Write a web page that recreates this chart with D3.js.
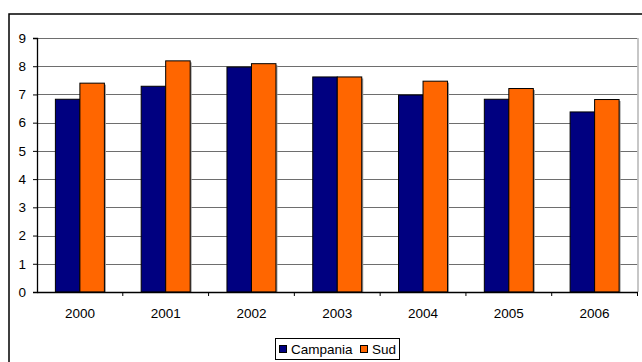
<!DOCTYPE html>
<meta charset="utf-8">
<script src="https://d3js.org/d3.v7.min.js"></script>
<style>
  body { margin: 0; background: #fff; }
  text { font-family: "Liberation Sans", Arial, sans-serif; font-size: 13.5px; fill: #000; }
</style>
<div id="chart"></div>
<script>
  // data
  var years = ["2000", "2001", "2002", "2003", "2004", "2005", "2006"];
  var campania = [6.83, 7.29, 7.97, 7.62, 6.98, 6.83, 6.38];
  var sud = [7.40, 8.19, 8.09, 7.62, 7.47, 7.21, 6.82];
  var seriesNames = ["Campania", "Sud"];
  var colors = ["#000080", "#FF6600"];
  var yTicks = [0, 1, 2, 3, 4, 5, 6, 7, 8, 9];

  var W = 642, H = 362;
  var margin = {top: 38, right: 4.5, bottom: 70, left: 37};
  var width = W - margin.left - margin.right,
      height = H - margin.top - margin.bottom;

  var svg = d3.select("#chart").append("svg")
      .attr("width", W).attr("height", H);

  // outer chart frame (runs past the right and bottom edges)
  svg.append("rect")
      .attr("x", 9).attr("y", 14)
      .attr("width", W + 20).attr("height", H + 20)
      .attr("fill", "none").attr("stroke", "#000").attr("stroke-width", 1.5);

  var g = svg.append("g")
      .attr("transform", "translate(" + margin.left + "," + margin.top + ")");

  var x = d3.scaleBand().domain(years).range([0, width]);
  var x1 = d3.scaleBand().domain(seriesNames).range([0, 49]);
  var y = d3.scaleLinear().domain([0, 9]).range([height, 0]);

  // gridlines
  g.selectAll(".grid").data(yTicks.slice(1)).enter().append("line")
      .attr("x1", 0).attr("x2", width)
      .attr("y1", function(d) { return Math.round(y(d)) + 0.5; })
      .attr("y2", function(d) { return Math.round(y(d)) + 0.5; })
      .attr("stroke", "#6e6e6e").attr("stroke-width", 1.2);

  // plot area right border
  g.append("line")
      .attr("x1", width + 0.5).attr("x2", width + 0.5)
      .attr("y1", 0).attr("y2", height)
      .attr("stroke", "#b4b4b4").attr("stroke-width", 1.5);

  var rows = years.map(function(yr, i) { return {year: yr, vals: [campania[i], sud[i]]}; });

  var groups = g.selectAll(".grp").data(rows).enter().append("g")
      .attr("transform", function(d) {
        return "translate(" + (x(d.year) + (x.bandwidth() - 49) / 2) + ",0)";
      });

  // faint shadow
  groups.selectAll(".shadow").data(function(d) { return d.vals; }).enter().append("rect")
      .attr("x", function(d, i) { return x1(seriesNames[i]) + 1.5; })
      .attr("y", function(d) { return y(d) + 1.5; })
      .attr("width", x1.bandwidth())
      .attr("height", function(d) { return height - y(d) - 1.5; })
      .attr("fill", "#9a9a9a");

  groups.selectAll(".bar").data(function(d) { return d.vals; }).enter().append("rect")
      .attr("x", function(d, i) { return x1(seriesNames[i]); })
      .attr("y", function(d) { return y(d); })
      .attr("width", x1.bandwidth())
      .attr("height", function(d) { return height - y(d); })
      .attr("fill", function(d, i) { return colors[i]; })
      .attr("stroke", "#000").attr("stroke-width", 1);

  // y axis
  var yAxis = g.append("g")
      .call(d3.axisLeft(y).tickValues(yTicks).tickSize(4).tickPadding(7).tickFormat(d3.format("d")));
  yAxis.attr("font-size", null).attr("font-family", null);
  yAxis.select(".domain").attr("stroke", "#000").attr("stroke-width", 1.3);

  // x axis
  var xAxis = g.append("g")
      .attr("transform", "translate(0," + height + ")")
      .call(d3.axisBottom(x).tickSize(0).tickPadding(16));
  xAxis.attr("font-size", null).attr("font-family", null);
  xAxis.select(".domain").attr("stroke", "#000").attr("stroke-width", 1.3);
  // tick marks between categories
  xAxis.selectAll(".sep").data(years.slice(1).concat(["end"])).enter().append("line")
      .attr("x1", function(d, i) { return x.step() * (i + 1); })
      .attr("x2", function(d, i) { return x.step() * (i + 1); })
      .attr("y1", 0).attr("y2", 4)
      .attr("stroke", "#000");

  // legend
  var lg = svg.append("g").attr("transform", "translate(275,338)");
  lg.append("rect").attr("x", 0.5).attr("y", 0.5).attr("width", 124).attr("height", 21)
      .attr("fill", "#fff").attr("stroke", "#000");
  var lx = [4, 85];
  seriesNames.forEach(function(name, i) {
    lg.append("rect").attr("x", lx[i] + 0.5).attr("y", 7.5).attr("width", 7).attr("height", 7)
        .attr("fill", colors[i]).attr("stroke", "#000");
    lg.append("text").attr("x", lx[i] + 12).attr("y", 16).text(name);
  });
</script>
